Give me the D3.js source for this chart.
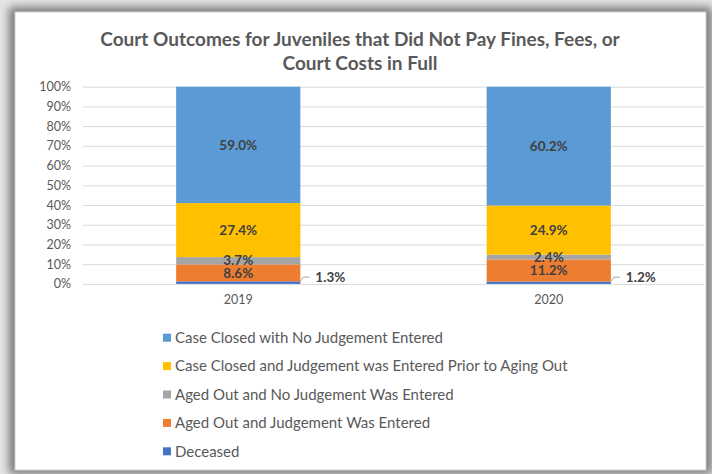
<!DOCTYPE html>
<html><head><meta charset="utf-8">
<script src="https://cdn.jsdelivr.net/npm/d3@7"></script>
<style>html,body{margin:0;padding:0;background:#fff;}svg{display:block;}</style>
</head><body>
<svg id="c" width="712" height="474"></svg>
<script>
const categories = ["2019", "2020"];
const seriesNames = [
  "Deceased",
  "Aged Out and Judgement Was Entered",
  "Aged Out and No Judgement Was Entered",
  "Case Closed and Judgement was Entered Prior to Aging Out",
  "Case Closed with No Judgement Entered"
];
const deceased = [1.3, 1.2];
const agedOutJudgement = [8.6, 11.2];
const agedOutNoJudgement = [3.7, 2.4];
const closedJudgement = [27.4, 24.9];
const closedNoJudgement = [59.0, 60.2];
const colors = ["#4472C4", "#ED7D31", "#A5A5A5", "#FFC000", "#5B9BD5"];
const yTicks = [0, 0.1, 0.2, 0.3, 0.4, 0.5, 0.6, 0.7, 0.8, 0.9, 1.0];
const titleLines = ["Court Outcomes for Juveniles that Did Not Pay Fines, Fees, or", "Court Costs in Full"];

const seriesValues = [deceased, agedOutJudgement, agedOutNoJudgement, closedJudgement, closedNoJudgement];
const rows = categories.map((c, i) => {
  const r = {cat: c};
  seriesNames.forEach((s, j) => r[s] = seriesValues[j][i]);
  return r;
});

const svg = d3.select("#c");
const font = "Lato, 'Open Sans', sans-serif";

// shadow frame
const defs = svg.append("defs");
const f = defs.append("filter").attr("id", "sh").attr("x", "-10%").attr("y", "-10%").attr("width", "120%").attr("height", "120%");
f.append("feGaussianBlur").attr("stdDeviation", 5);
svg.append("rect").attr("x", 0).attr("y", 0).attr("width", 712).attr("height", 474).attr("fill", "#e6e6e6");
svg.append("rect").attr("x", 9).attr("y", 7).attr("width", 703).attr("height", 467).attr("fill", "#777").attr("filter", "url(#sh)");
svg.append("rect").attr("x", 15).attr("y", 12).attr("width", 691).attr("height", 458).attr("fill", "#fff").attr("stroke", "#d0d0d0").attr("stroke-width", 1);

// title
const title = svg.append("text").attr("text-anchor", "middle").attr("font-family", font)
  .attr("font-weight", "bold").attr("font-size", 19).attr("fill", "#595959");
titleLines.forEach((t, i) => title.append("tspan").attr("x", 360).attr("y", 46 + i * 24).text(t));

const margin = {left: 83, right: 704, top: 86.7, bottom: 283.9};
const x = d3.scaleBand().domain(categories).range([margin.left, margin.right]).paddingInner(0.6).paddingOuter(0.3);
const y = d3.scaleLinear().domain([0, 1]).range([margin.bottom, margin.top]);

// gridlines
svg.append("g").attr("transform", `translate(${margin.left},0)`)
  .call(d3.axisLeft(y).tickValues(yTicks).tickSize(-(margin.right - margin.left)).tickFormat(""))
  .call(g => g.select(".domain").remove())
  .call(g => g.selectAll("line").attr("stroke", "#d9d9d9").attr("stroke-width", 1));

// y labels
svg.append("g").attr("transform", `translate(${margin.left - 12},0)`)
  .call(d3.axisLeft(y).tickValues(yTicks).tickSize(0).tickPadding(0).tickFormat(d3.format(".0%")))
  .call(g => g.select(".domain").remove())
  .call(g => g.selectAll("text").attr("font-family", font).attr("font-size", 12.5).attr("fill", "#595959"));

// x labels
svg.append("g").attr("transform", `translate(0,${margin.bottom + 9})`)
  .call(d3.axisBottom(x).tickSize(0).tickPadding(0))
  .call(g => g.select(".domain").remove())
  .call(g => g.selectAll("text").attr("font-family", font).attr("font-size", 12.5).attr("fill", "#595959").attr("dy", "0.9em"));

const stack = d3.stack().keys(seriesNames).offset(d3.stackOffsetExpand);
const stacked = stack(rows);

const layers = svg.append("g").selectAll("g").data(stacked).join("g").attr("fill", (d, i) => colors[i]);
layers.selectAll("rect").data(d => d).join("rect")
  .attr("x", d => x(d.data.cat)).attr("width", x.bandwidth())
  .attr("y", d => y(d[1])).attr("height", d => y(d[0]) - y(d[1]));

// labels
const fmt = v => v.toFixed(1) + "%";
stacked.forEach((layer, i) => {
  layer.forEach(d => {
    const v = d.data[layer.key];
    const cy = (y(d[0]) + y(d[1])) / 2;
    if (i === 0) {
      const x0 = x(d.data.cat) + x.bandwidth();
      svg.append("path").attr("d", `M${x0},${cy - 1} L${x0 + 3},${cy - 5.5} L${x0 + 9},${cy - 5.5}`)
        .attr("fill", "none").attr("stroke", "#a6a6a6").attr("stroke-width", 1);
      svg.append("text").attr("x", x0 + 15).attr("y", cy - 5).attr("dy", "0.35em")
        .attr("font-family", font).attr("font-weight", "bold").attr("font-size", 13.5).attr("fill", "#404040").text(fmt(v));
    } else {
      svg.append("text").attr("x", x(d.data.cat) + x.bandwidth() / 2).attr("y", cy).attr("dy", "0.35em")
        .attr("text-anchor", "middle").attr("font-family", font).attr("font-weight", "bold").attr("font-size", 13.5)
        .attr("fill", "#404040").text(fmt(v));
    }
  });
});

// legend (top to bottom order reversed)
const legendOrder = seriesNames.slice().reverse();
const lg = svg.append("g").selectAll("g").data(legendOrder).join("g")
  .attr("transform", (d, i) => `translate(163,${337.7 + i * 28.4})`);
lg.append("rect").attr("x", 0).attr("y", -4).attr("width", 8).attr("height", 8)
  .attr("fill", d => colors[seriesNames.indexOf(d)]);
lg.append("text").attr("x", 12).attr("y", 0).attr("dy", "0.35em").attr("font-family", font)
  .attr("font-size", 15).attr("fill", "#595959").text(d => d);
</script>
</body></html>
